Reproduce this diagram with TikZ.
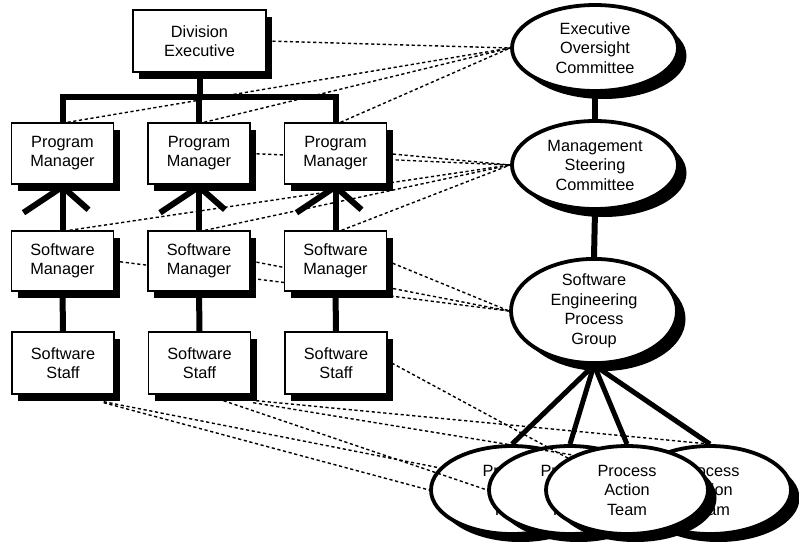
\documentclass[tikz,border=0pt]{standalone}
\usepackage{fontspec}
\setmainfont{Liberation Sans}
\usetikzlibrary{shapes.geometric,shadows}
\pgfdeclarelayer{bg}
\pgfsetlayers{bg,main}
\begin{document}
\begin{tikzpicture}[x=1pt,y=1pt,
  box/.style={draw,line width=1.4pt,fill=white,minimum width=102pt,minimum height=61pt,
    inner sep=0pt,align=center,font=\fontsize{16.3}{19}\selectfont,
    drop shadow={shadow xshift=6pt,shadow yshift=-6.5pt,fill=black,opacity=1}},
  oval/.style={ellipse,draw,line width=3.8pt,fill=white,minimum width=166pt,minimum height=88pt,
    inner sep=0pt,align=center,font=\fontsize{16.3}{19.5}\selectfont,
    drop shadow={shadow xshift=8.5pt,shadow yshift=-8pt,fill=black,opacity=1}},
  pat/.style={oval,minimum width=162pt,minimum height=88pt},
  tree/.style={line width=6pt},
  fan/.style={line width=5pt},
  dline/.style={line width=1.4pt,dash pattern=on 3.2pt off 2.6pt}]
\useasboundingbox (0,0) rectangle (799,-541);

% boxes
\node[box,minimum width=133pt,minimum height=62pt] (DE) at (199.5,-41) {Division\\Executive};
\node[box] (PM1) at (62.5,-153.5) {Program\\Manager};
\node[box] (PM2) at (199,-153.5) {Program\\Manager};
\node[box] (PM3) at (335.5,-153.5) {Program\\Manager};
\node[box,minimum height=60pt] (SM1) at (62.5,-261) {Software\\Manager};
\node[box,minimum height=60pt] (SM2) at (199,-261) {Software\\Manager};
\node[box,minimum height=60pt] (SM3) at (335.5,-261) {Software\\Manager};
\node[box,minimum height=62pt] (SS1) at (63,-363) {Software\\Staff};
\node[box,minimum height=62pt] (SS2) at (199.5,-363) {Software\\Staff};
\node[box,minimum height=62pt] (SS3) at (336,-363) {Software\\Staff};

% ellipses
\node[oval,minimum height=86pt] (EOC) at (595,-48) {Executive\\Oversight\\Committee};
\node[oval,minimum height=88pt] (MSC) at (595,-165) {Management\\Steering\\Committee};
\node[oval,minimum height=98pt] (SEPG) at (594,-311) {Software\\Engineering\\Process\\Group};
\node[pat] (PAT1) at (512,-490) {Process\\Action\\Team};
\node[pat] (PAT2) at (570,-490) {Process\\Action\\Team};
\node[pat] (PAT4) at (710,-490) {Process\\Action\\Team};
\node[pat] (PAT3) at (627,-490) {Process\\Action\\Team};

\coordinate (bus) at (0,-97);

\begin{pgfonlayer}{bg}
  % organisation tree
  \draw[tree] (DE.south) -- (DE.south |- bus);
  \draw[tree] (PM1.north) -- (PM1.north |- bus) -- (PM3.north |- bus) -- (PM3.north);
  \draw[tree] (PM2.north) -- (PM2.north |- bus);
  \draw[tree] (PM1.south) -- (SM1.north);
  \draw[tree] (PM2.south) -- (SM2.north);
  \draw[tree] (PM3.south) -- (SM3.north);
  \draw[tree] (SM1.south) -- (SS1.north);
  \draw[tree] (SM2.south) -- (SS2.north);
  \draw[tree] (SM3.south) -- (SS3.north);
  % crow's feet
  \foreach \p in {PM1,PM2,PM3}{
    \draw[tree] ([yshift=-2pt]\p.south) -- ++(-39,-26);
    \draw[tree] ([yshift=-2pt]\p.south) -- ++(26,-23);
  }
  % committee chain
  \draw[tree] (EOC.south) -- (MSC.north);
  \draw[tree] (MSC.south) -- (SEPG.north);
  \draw[fan] (SEPG.south) -- (PAT1.north);
  \draw[fan] (SEPG.south) -- (PAT2.north);
  \draw[fan] (SEPG.south) -- (PAT3.north);
  \draw[fan] (SEPG.south) -- (PAT4.north);
  % dotted links to upper committees
  \draw[dline] (DE.east) -- (EOC.west);
  \draw[dline] ([xshift=5pt]PM1.north) -- (EOC.west);
  \draw[dline] ([xshift=5pt]PM2.north) -- (EOC.west);
  \draw[dline] ([xshift=5pt]PM3.north) -- (EOC.west);
  \draw[dline] (PM3.east) -- (MSC.west);
  \draw[dline] (PM2.east) -- (MSC.west);
  \draw[dline] ([xshift=7pt]SM1.north) -- (MSC.west);
  \draw[dline] ([xshift=6pt]SM2.north) -- (MSC.west);
  \draw[dline] ([xshift=6pt]SM3.north) -- (MSC.west);
  \draw[dline] (SM3.east) -- (SEPG.west);
  \draw[dline] (SM2.east) -- (SEPG.west);
  \draw[dline] (SM1.east) -- (SEPG.west);
\end{pgfonlayer}

% dotted links to process action teams
\draw[dline] ([xshift=4pt]SS3.east) -- (PAT3);
\draw[dline] ([xshift=5pt,yshift=-6pt]SS2.south east) -- (PAT4.north);
\draw[dline] ([xshift=2pt,yshift=-8pt]SS2.south east) -- (PAT3.147);
\draw[dline] ([xshift=24pt,yshift=-6pt]SS2.south) -- (PAT2.west);
\draw[dline] ([xshift=-11pt,yshift=-7pt]SS1.south east) -- (PAT1.163);
\draw[dline] ([xshift=-11pt,yshift=-8pt]SS1.south east) -- (PAT1.west);
\end{tikzpicture}
\end{document}
